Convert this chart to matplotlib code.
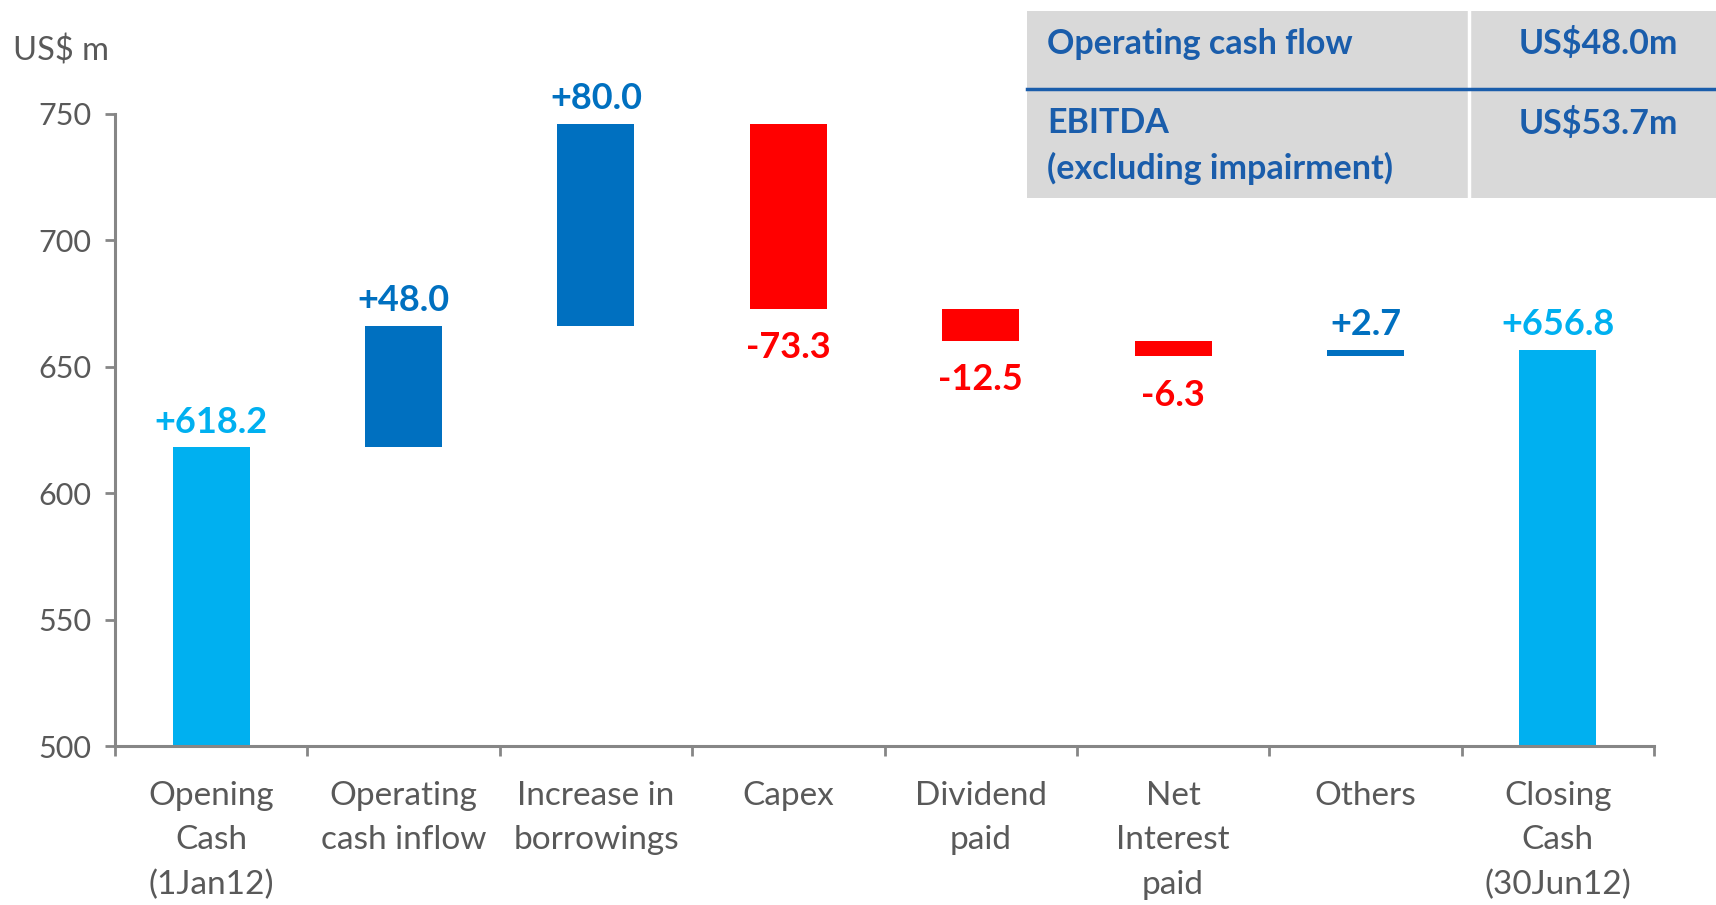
import matplotlib
matplotlib.use('Agg')
import matplotlib.pyplot as plt
from matplotlib.patches import Rectangle
from matplotlib.lines import Line2D
import numpy as np

plt.rcParams['font.family'] = ['Lato', 'DejaVu Sans']

# data
categories = ["Opening\nCash\n(1Jan12)", "Operating\ncash inflow", "Increase in\nborrowings",
              "Capex", "Dividend\npaid", "Net\nInterest\npaid", "Others", "Closing\nCash\n(30Jun12)"]
changes = [618.2, 48.0, 80.0, -73.3, -12.5, -6.3, 2.7, 656.8]
kinds = ["total", "up", "up", "down", "down", "down", "up", "total"]
yticks = [500, 550, 600, 650, 700, 750]
table_labels = ["Operating cash flow", "EBITDA\n(excluding impairment)"]
table_values = ["US$48.0m", "US$53.7m"]

LIGHT = '#00B0F0'
DARK = '#0070C0'
RED = '#FF0000'
GREY_TXT = '#595959'
AXIS = '#868686'
TBL_TXT = '#1A5DAB'

W, H = 1716, 905
fig = plt.figure(figsize=(W / 100, H / 100), dpi=100)
ax = fig.add_axes([115 / W, 1 - 746 / H, (1654 - 115) / W, (746 - 114) / H])

def fx(px):
    return px / W

def fy(py):
    return 1 - py / H

# waterfall bottoms/heights
bottoms, heights, colors = [], [], []
running = 0.0
for c, k in zip(changes, kinds):
    if k == "total":
        bottoms.append(0)
        heights.append(c)
        colors.append(LIGHT)
        running = c
    elif k == "up":
        bottoms.append(running)
        heights.append(c)
        colors.append(DARK)
        running += c
    else:
        bottoms.append(running + c)
        heights.append(-c)
        colors.append(RED)
        running += c

x = np.arange(len(categories))
ax.bar(x, heights, bottom=bottoms, width=0.4, color=colors, zorder=2)

# value labels
for i, (c, k) in enumerate(zip(changes, kinds)):
    txt = f"{c:+.1f}"
    top = bottoms[i] + heights[i]
    if k == "down":
        ax.annotate(txt, (x[i], bottoms[i]), xytext=(0, -28), textcoords='offset points',
                    ha='center', va='center', fontsize=26, fontweight='bold', color=RED,
                    annotation_clip=False)
    else:
        col = LIGHT if k == "total" else DARK
        ax.annotate(txt, (x[i], top), xytext=(0, 18), textcoords='offset points',
                    ha='center', va='center', fontsize=26, fontweight='bold', color=col,
                    annotation_clip=False)

ax.set_xlim(-0.5, len(categories) - 0.5)
ax.set_ylim(500, 750)
ax.set_yticks(yticks)
ax.set_xticks(x)
ax.set_xticklabels(categories, linespacing=1.6)
ax.set_xticks(np.arange(len(categories) + 1) - 0.5, minor=True)

for s in ['top', 'right']:
    ax.spines[s].set_visible(False)
for s in ['left', 'bottom']:
    ax.spines[s].set_color(AXIS)
    ax.spines[s].set_linewidth(2.2)

ax.tick_params(axis='y', direction='out', length=7, width=2, color=AXIS,
               labelsize=22, labelcolor=GREY_TXT, pad=10)
ax.tick_params(axis='x', which='major', length=0, labelsize=24, labelcolor=GREY_TXT, pad=25)
ax.tick_params(axis='x', which='minor', direction='out', length=7, width=2, color=AXIS)

fig.text(fx(13), fy(51), "US$ m", fontsize=23.5, color=GREY_TXT, ha='left', va='center')

# table top right
fig.add_artist(Rectangle((fx(1027), fy(198)), fx(1716) - fx(1027), fy(11) - fy(198),
                         transform=fig.transFigure, facecolor='#D9D9D9', edgecolor='none'))
fig.add_artist(Line2D([fx(1469), fx(1469)], [fy(11), fy(198)], transform=fig.transFigure,
                      color='white', lw=2.5))
fig.add_artist(Line2D([fx(1027), fx(1716)], [fy(89), fy(89)], transform=fig.transFigure,
                      color=TBL_TXT, lw=2.5))
row_y = [44, 123]
for lab, val, yy in zip(table_labels, table_values, row_y):
    lines = lab.split('\n')
    for j, line in enumerate(lines):
        fig.text(fx(1047), fy(yy + 45 * j), line, fontsize=24.5, fontweight='bold',
                 color=TBL_TXT, ha='left', va='center')
    fig.text(fx(1598), fy(yy), val, fontsize=24.5, fontweight='bold', color=TBL_TXT,
             ha='center', va='center')

fig.savefig('out.png', dpi=100)
